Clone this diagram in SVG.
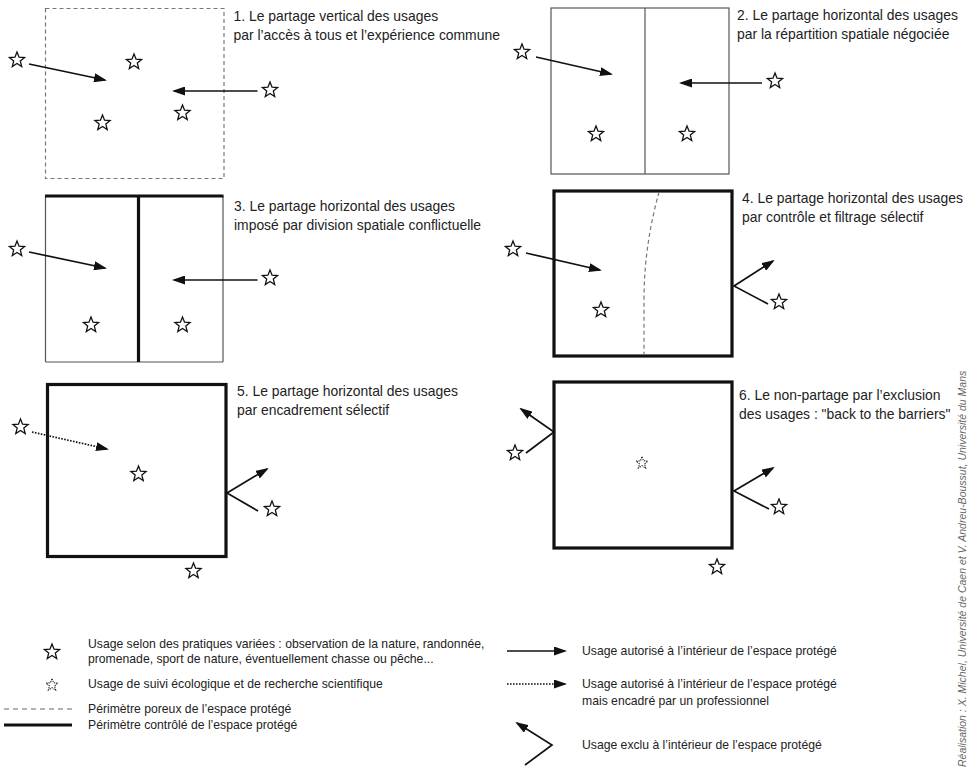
<svg xmlns="http://www.w3.org/2000/svg" xmlns:xlink="http://www.w3.org/1999/xlink" width="977" height="771" viewBox="0 0 977 771">
<style>
.t{font-family:"Liberation Sans",Arial,sans-serif;font-size:13.9px;fill:#222}
.lg{font-family:"Liberation Sans",Arial,sans-serif;font-size:12.2px;fill:#222}
.cr{font-family:"Liberation Sans",Arial,sans-serif;font-size:10.5px;font-style:italic;fill:#666}
.star{fill:#fff;stroke:#111;stroke-width:1.3;stroke-linejoin:miter}
.dstar{fill:none;stroke:#222;stroke-width:1.1;stroke-dasharray:1.3 1}
.thin{fill:none;stroke:#555;stroke-width:1.2}
.thick{fill:none;stroke:#111;stroke-width:3.2}
.porous{fill:none;stroke:#777;stroke-width:1.2;stroke-dasharray:4 3}
.arr{fill:none;stroke:#111;stroke-width:1.7;marker-end:url(#ah)}
.darr{fill:none;stroke:#111;stroke-width:1.7;stroke-dasharray:1.6 1.4;marker-end:url(#ah)}
.exc{fill:none;stroke:#111;stroke-width:1.7;stroke-linejoin:miter;marker-end:url(#ah)}
</style>
<defs>
<marker id="ah" markerWidth="13" markerHeight="9" refX="11" refY="4.5" orient="auto" markerUnits="userSpaceOnUse"><path d="M0,0 L13,4.5 L0,9 Z" fill="#111"/></marker>
<path id="st" d="M0,-8 L2.06,-2.83 L7.61,-2.47 L3.33,1.08 L4.70,6.47 L0,3.5 L-4.70,6.47 L-3.33,1.08 L-7.61,-2.47 L-2.06,-2.83 Z"/>
<path id="dst" d="M0,-6.2 L1.6,-2.2 L5.9,-1.9 L2.58,0.84 L3.64,5.01 L0,2.71 L-3.64,5.01 L-2.58,0.84 L-5.9,-1.9 L-1.6,-2.2 Z"/>
</defs>
<rect width="977" height="771" fill="#fff"/>

<g id="panel1">
<rect class="porous" x="45.5" y="8.5" width="178.5" height="170"/>
<text class="t" x="233.5" y="20.5">1. Le partage vertical des usages</text>
<text class="t" x="233.5" y="39.5">par l’accès à tous et l’expérience commune</text>
<use href="#st" class="star" x="17" y="60"/>
<use href="#st" class="star" x="134" y="62"/>
<use href="#st" class="star" x="270" y="90"/>
<use href="#st" class="star" x="182.5" y="113"/>
<use href="#st" class="star" x="102.5" y="123"/>
</g>

<g id="panel2">
<rect class="thin" x="551" y="8" width="178" height="166"/>
<line class="thin" x1="645" y1="8" x2="645" y2="174"/>
<text class="t" x="737" y="20">2. Le partage horizontal des usages</text>
<text class="t" x="737" y="38.5">par la répartition spatiale négociée</text>
<use href="#st" class="star" x="522" y="52"/>
<use href="#st" class="star" x="775" y="81"/>
<use href="#st" class="star" x="596" y="134"/>
<use href="#st" class="star" x="687" y="134"/>
</g>

<g id="panel3">
<line class="thin" x1="45.5" y1="196" x2="45.5" y2="362"/>
<line class="thin" x1="223" y1="196" x2="223" y2="362"/>
<line class="thin" x1="45.5" y1="362" x2="223" y2="362"/>
<line class="thick" x1="45" y1="196" x2="223.5" y2="196"/>
<line class="thick" x1="138.5" y1="196" x2="138.5" y2="362"/>
<text class="t" x="234" y="211">3. Le partage horizontal des usages</text>
<text class="t" x="234" y="230">imposé par division spatiale conflictuelle</text>
<use href="#st" class="star" x="17" y="249"/>
<use href="#st" class="star" x="270" y="278"/>
<use href="#st" class="star" x="91" y="325"/>
<use href="#st" class="star" x="182.5" y="325"/>
</g>

<g id="panel4">
<rect class="thick" x="554" y="191" width="178" height="165"/>
<path class="porous" d="M659,192 C650,225 644,260 644,300 L644,355" stroke-dasharray="3 3"/>
<text class="t" x="742" y="203">4. Le partage horizontal des usages</text>
<text class="t" x="742" y="221.5">par contrôle et filtrage sélectif</text>
<use href="#st" class="star" x="513" y="249"/>
<use href="#st" class="star" x="601" y="310"/>
<use href="#st" class="star" x="779" y="302"/>
</g>

<g id="panel5">
<rect class="thick" x="47.5" y="384.5" width="178.5" height="172"/>
<text class="t" x="237" y="396">5. Le partage horizontal des usages</text>
<text class="t" x="237" y="414.5">par encadrement sélectif</text>
<use href="#st" class="star" x="20.5" y="427"/>
<use href="#st" class="star" x="138.5" y="474"/>
<use href="#st" class="star" x="272" y="509"/>
<use href="#st" class="star" x="193.5" y="571"/>
</g>

<g id="panel6">
<rect class="thick" x="554" y="382" width="178" height="166"/>
<text class="t" x="739" y="400">6. Le non-partage par l’exclusion</text>
<text class="t" x="739" y="418.5">des usages : "back to the barriers"</text>
<use href="#st" class="star" x="515" y="453"/>
<use href="#dst" class="dstar" x="642" y="463"/>
<use href="#st" class="star" x="779" y="507"/>
<use href="#st" class="star" x="717" y="567"/>
</g>

<g id="connectors">
<line class="arr" x1="29" y1="64" x2="105" y2="80"/>
<line class="arr" x1="257.5" y1="91" x2="174" y2="91"/>
<line class="arr" x1="536" y1="57" x2="611" y2="74"/>
<line class="arr" x1="762" y1="83" x2="681" y2="83"/>
<line class="arr" x1="29" y1="252" x2="105" y2="268"/>
<line class="arr" x1="257.5" y1="280" x2="174" y2="280"/>
<line class="arr" x1="526" y1="253" x2="600" y2="270"/>
<polyline class="exc" points="768,304 734,286 773,261"/>
<line class="darr" x1="32" y1="432" x2="107" y2="449"/>
<polyline class="exc" points="258,511 227,493 267,469"/>
<polyline class="exc" points="526,453 554,432 521,409"/>
<polyline class="exc" points="769,509 734,491 773,468"/>
</g>

<g id="legend">
<use href="#st" class="star" x="52" y="652"/>
<text class="lg" x="88" y="648">Usage selon des pratiques variées : observation de la nature, randonnée,</text>
<text class="lg" x="88" y="663">promenade, sport de nature, éventuellement chasse ou pêche...</text>
<use href="#dst" class="dstar" x="52" y="685"/>
<text class="lg" x="88" y="688">Usage de suivi écologique et de recherche scientifique</text>
<line x1="4" y1="709" x2="72" y2="709" stroke="#666" stroke-width="1" stroke-dasharray="5 4"/>
<text class="lg" x="88" y="713">Périmètre poreux de l’espace protégé</text>
<line x1="4" y1="725" x2="72" y2="725" stroke="#111" stroke-width="3.2"/>
<text class="lg" x="88" y="729">Périmètre contrôlé de l’espace protégé</text>
<line class="arr" x1="507" y1="651" x2="565" y2="651"/>
<text class="lg" x="582" y="655">Usage autorisé à l’intérieur de l’espace protégé</text>
<line class="darr" x1="507" y1="684" x2="565" y2="684"/>
<text class="lg" x="582" y="688">Usage autorisé à l’intérieur de l’espace protégé</text>
<text class="lg" x="582" y="705">mais encadré par un professionnel</text>
<polyline class="exc" points="525,765 552,745 517,723"/>
<text class="lg" x="582" y="749">Usage exclu à l’intérieur de l’espace protégé</text>
</g>

<text class="cr" transform="translate(966,767) rotate(-90)">Réalisation : X. Michel, Université de Caen et V. Andreu-Boussut, Université du Mans</text>
</svg>
